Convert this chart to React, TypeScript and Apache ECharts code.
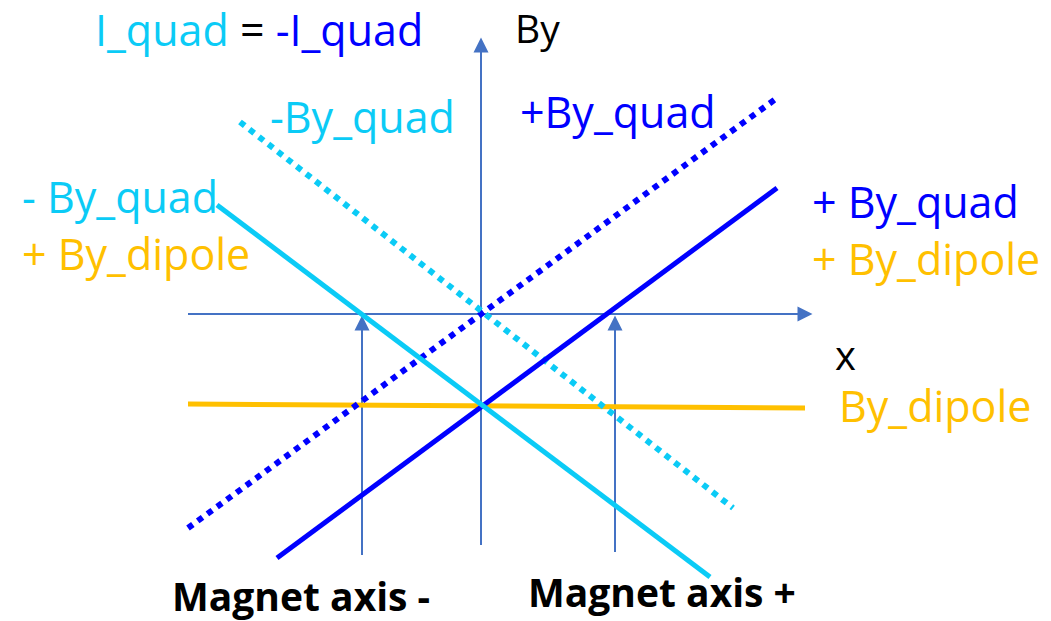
import React, { useEffect, useRef } from "react";
import * as echarts from "echarts";

// Coordinates: origin at the crossing of the x and By axes, one unit per pixel, y upward.
const X_RANGE = [-481, 570];
const Y_RANGE = [-307, 314];

// Axes (with arrow heads at their ends)
const xAxisArrow = [[-293, 0], [324, 0]];
const yAxisArrow = [[0, -231], [0, 269]];
const magnetMinusArrow = [[-119, -241], [-119, -9]];
const magnetPlusArrow = [[134, -238], [134, -9]];

// Field lines
const plusQuad = [[-293, -214], [296, 216]];
const plusQuadPlusDipole = [[-204, -244], [296, 126]];
const minusQuad = [[-241, 192], [252, -194]];
const minusQuadPlusDipole = [[-264, 109], [229, -263]];
const dipole = [[-293, -90], [324, -94]];

const LIGHT = "#0BCBF6";
const DARK = "#0000FF";
const ORANGE = "#FFC000";
const AXIS = "#4472C4";
const FONT = "'Open Sans', sans-serif";

export default function App() {
  const ref = useRef<HTMLDivElement>(null);
  useEffect(() => {
    if (!ref.current) return;
    const chart = echarts.init(ref.current, undefined, { renderer: "svg" });

    const arrow = (coords: number[][], name: string) => ({
      type: "lines",
      name,
      coordinateSystem: "cartesian2d",
      symbol: ["none", "triangle"],
      symbolSize: 15,
      lineStyle: { color: AXIS, width: 2, opacity: 1 },
      itemStyle: { color: AXIS },
      data: [{ coords }],
      z: 1,
      silent: true,
    });
    const fieldLine = (coords: number[][], name: string, color: string, type: any, width: number, z: number) => ({
      type: "lines",
      name,
      coordinateSystem: "cartesian2d",
      symbol: ["none", "none"],
      lineStyle: { color, width, opacity: 1, type, cap: "butt" },
      data: [{ coords }],
      z,
      silent: true,
    });

    const txt = (text: string, x: number, y: number, fill: string, size = 43, weight: any = "normal") => ({
      type: "text",
      x,
      y,
      style: {
        text,
        fill,
        font: `${weight} ${size}px ${FONT}`,
        textAlign: "left",
        textVerticalAlign: "middle",
      },
      z: 10,
    });

    chart.setOption({
      animation: false,
      backgroundColor: "#ffffff",
      grid: { left: 0, right: 0, top: 0, bottom: 0, containLabel: false },
      xAxis: { type: "value", min: X_RANGE[0], max: X_RANGE[1], show: false },
      yAxis: { type: "value", min: Y_RANGE[0], max: Y_RANGE[1], show: false },
      series: [
        arrow(xAxisArrow, "x axis"),
        arrow(yAxisArrow, "By axis"),
        arrow(magnetMinusArrow, "Magnet axis -"),
        arrow(magnetPlusArrow, "Magnet axis +"),
        fieldLine(dipole, "By_dipole", ORANGE, "solid", 5, 2),
        fieldLine(plusQuad, "+By_quad", DARK, [6, 6], 6, 3),
        fieldLine(minusQuad, "-By_quad", LIGHT, [6, 6], 6, 3),
        fieldLine(plusQuadPlusDipole, "+By_quad + By_dipole", DARK, "solid", 5, 4),
        fieldLine(minusQuadPlusDipole, "-By_quad + By_dipole", LIGHT, "solid", 5, 5),
      ],
      graphic: [
        {
          type: "text",
          x: 95,
          y: 29,
          style: {
            text: "{a|I_quad} {b|=} {c|-I_quad}",
            font: `normal 43px ${FONT}`,
            textAlign: "left",
            textVerticalAlign: "middle",
            rich: {
              a: { fill: LIGHT, font: `normal 43px ${FONT}` },
              b: { fill: "#000000", font: `normal 43px ${FONT}` },
              c: { fill: DARK, font: `normal 43px ${FONT}` },
            },
          },
          z: 10,
        },
        txt("By", 515, 27, "#000000", 39),
        txt("-By_quad", 270, 116, LIGHT),
        txt("+By_quad", 520, 111, DARK),
        txt("- By_quad", 22, 196, LIGHT),
        txt("+ By_dipole", 22, 253, ORANGE),
        txt("+ By_quad", 812, 201, DARK),
        txt("+ By_dipole", 812, 258, ORANGE),
        txt("x", 835, 354, "#000000", 40),
        txt("By_dipole", 839, 405, ORANGE),
        txt("Magnet axis -", 172, 595, "#000000", 39, "bold"),
        txt("Magnet axis +", 528, 591, "#000000", 39, "bold"),
      ],
    });
    return () => chart.dispose();
  }, []);
  return (
    <div
      ref={ref}
      style={{ position: "fixed", left: 0, top: 0, width: 1051, height: 621, background: "#fff" }}
    />
  );
}
